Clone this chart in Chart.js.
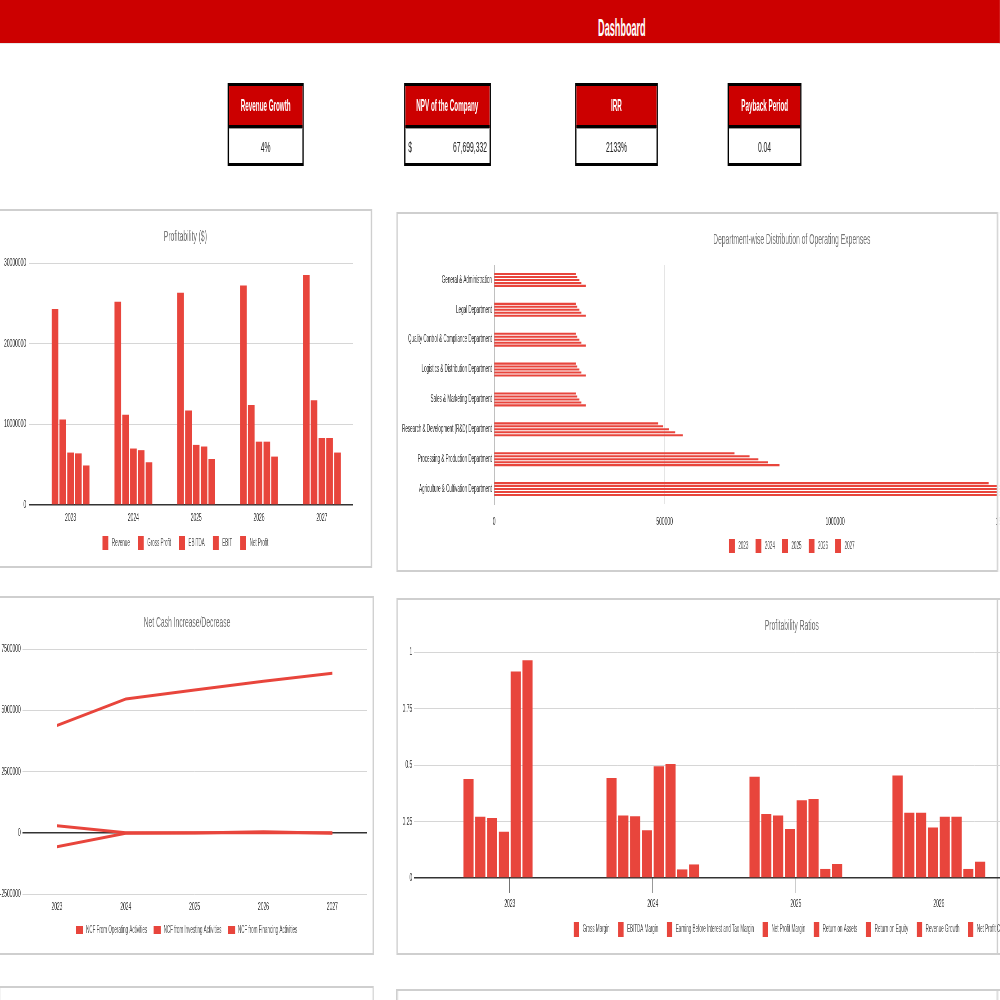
<!DOCTYPE html>
<html>
<head>
<meta charset="utf-8">
<script src="https://cdn.jsdelivr.net/npm/chart.js@4.4.1/dist/chart.umd.min.js"></script>
<style>
  html, body { margin:0; padding:0; background:#fff; overflow:hidden; width:1000px; height:1000px; }
  #page { position:absolute; left:0; top:0; width:2222px; height:1000px; transform:scaleX(0.45); transform-origin:0 0;
          font-family:'Liberation Sans', Arial, sans-serif; }
  .topbar { position:absolute; left:0; top:0; width:2222px; height:43px; background:#cc0000; border-bottom:1px solid #e8e8e8;
            color:#fff; font-weight:bold; font-size:23px; }
  .topbar span { position:absolute; left:1382px; top:15px; line-height:26px; transform:translateX(-50%) scaleX(0.88); }
  .kpi { position:absolute; top:83px; height:83px; border:3px solid #000; box-sizing:border-box; background:#fff; }
  .kpi .head { height:39px; background:#cc0000; color:#fff; font-weight:bold; font-size:17px; text-align:center;
               line-height:39px; border-bottom:3px solid #000; white-space:nowrap; }
  .kpi .head span { display:inline-block; transform:scaleX(0.82); }
  .kpi .val { height:35px; color:#222; font-size:15px; text-align:center; line-height:35px; position:relative;
              border-top:1px solid #999; }
  .card { position:absolute; border-style:solid; border-color:#cfcfcf; border-width:2px 3px; box-sizing:border-box; background:#fff; }
  .edge { position:absolute; left:2215px; width:3px; background:#cfcfcf; }
  .cut { position:absolute; left:2215px; width:7px; background:#fff; border-left:3px solid #cfcfcf; box-sizing:border-box; }
  canvas { position:absolute; }
</style>
</head>
<body>
<div id="page">
  <div class="topbar"><span>Dashboard</span></div>

  <div class="kpi" style="left:506px; width:169px;"><div class="head"><span>Revenue Growth</span></div><div class="val">4%</div></div>
  <div class="kpi" style="left:898px; width:193px;"><div class="head"><span>NPV of the Company</span></div>
    <div class="val"><span style="position:absolute; left:6px;">$</span><span style="position:absolute; right:6px;">67,699,332</span></div></div>
  <div class="kpi" style="left:1278px; width:184px;"><div class="head"><span>IRR</span></div><div class="val">2133%</div></div>
  <div class="kpi" style="left:1617px; width:164px;"><div class="head"><span>Payback Period</span></div><div class="val">0.04</div></div>

  <div class="card" style="left:-3px; top:209px; width:830px; height:359px;"></div>
  <div class="card" style="left:881px; top:212px; width:1400px; height:360px;"></div>
  <div class="card" style="left:-3px; top:596px; width:834px; height:359px;"></div>
  <div class="card" style="left:881px; top:598px; width:1400px; height:357px;"></div>
  <div class="card" style="left:-3px; top:986px; width:834px; height:300px;"></div>
  <div class="card" style="left:881px; top:989px; width:1400px; height:300px;"></div>
  <div class="edge" style="top:598px; height:357px;"></div>
  <div class="edge" style="top:989px; height:300px;"></div>

  <canvas id="profitChart" width="824" height="359" style="left:0px; top:209px; width:824px; height:359px;"></canvas>
  <canvas id="deptChart" width="1757" height="360" style="left:881px; top:212px; width:1757px; height:360px;"></canvas>
  <canvas id="cashChart" width="831" height="357" style="left:0px; top:596px; width:831px; height:357px;"></canvas>
  <canvas id="ratioChart" width="1757" height="357" style="left:881px; top:598px; width:1757px; height:357px;"></canvas>

  <div class="cut" style="top:212px; height:360px;"></div>
</div>

<script>
const RED = '#e8453c'
const GRID = '#d6d6d6'
const DARK = '#333333'

const years = ['2023', '2024', '2025', '2026', '2027']

// Profitability ($)
const profitNames = ['Revenue', 'Gross Profit', 'EBITDA', 'EBIT', 'Net Profit']
const revenue = [24300000, 25200000, 26300000, 27200000, 28500000]
const grossProfit = [10600000, 11200000, 11700000, 12400000, 13000000]
const ebitda = [6500000, 7000000, 7450000, 7850000, 8300000]
const ebit = [6400000, 6800000, 7250000, 7850000, 8300000]
const netProfit = [4900000, 5300000, 5700000, 6000000, 6500000]

// Department-wise Distribution of Operating Expenses
const departments = ['General & Administration', 'Legal Department', 'Quality Control & Compliance Department',
  'Logistics & Distribution Department', 'Sales & Marketing Department', 'Research & Development (R&D) Department',
  'Processing & Production Department', 'Agriculture & Cultivation Department']
const opex2023 = [240000, 240000, 240000, 240000, 240000, 481000, 705000, 1450000]
const opex2024 = [244000, 244000, 244000, 244000, 244000, 496000, 749000, 1500000]
const opex2025 = [250000, 250000, 250000, 250000, 250000, 512000, 775000, 1550000]
const opex2026 = [256000, 256000, 256000, 256000, 256000, 531000, 803000, 1610000]
const opex2027 = [269000, 269000, 269000, 269000, 269000, 553000, 837000, 1670000]

// Net Cash Increase/Decrease
const ncfNames = ['NCF From Operating Activities', 'NCF from Investing Activities', 'NCF from Financing Activities']
const ncfOperating = [4380000, 5460000, 5830000, 6180000, 6510000]
const ncfInvesting = [-570000, -20000, -10000, 40000, -20000]
const ncfFinancing = [290000, 0, 0, 0, 0]

// Profitability Ratios
const ratioNames = ['Gross Margin', 'EBITDA Margin', 'Earning Before Interest and Tax Margin', 'Net Profit Margin',
  'Return on Assets', 'Return on Equity', 'Revenue Growth', 'Net Profit CAGR']
const grossMargin = [0.438, 0.442, 0.448, 0.454, 0.46]
const ebitdaMargin = [0.271, 0.277, 0.283, 0.289, 0.295]
const ebitMargin = [0.265, 0.273, 0.277, 0.289, 0.295]
const netProfitMargin = [0.205, 0.211, 0.217, 0.223, 0.228]
const returnOnAssets = [0.914, 0.494, 0.344, 0.271, 0.22]
const returnOnEquity = [0.963, 0.504, 0.35, 0.271, 0.22]
const revenueGrowth = [0, 0.038, 0.04, 0.04, 0.045]
const netProfitCagr = [0, 0.06, 0.062, 0.072, 0.08]

Chart.defaults.font.family = "'Liberation Sans', Arial, sans-serif"
Chart.defaults.font.size = 10
Chart.defaults.color = '#333'
Chart.defaults.animation = false
Chart.defaults.plugins.tooltip.enabled = false

// moves the legend up a little after layout (it overlaps only empty padding)
Chart.register({
  id: 'legendShift',
  defaults: { dy: 0 },
  afterLayout(chart, args, opts) {
    if (chart.legend && opts.dy) {
      chart.legend.top -= opts.dy
      chart.legend.bottom -= opts.dy
    }
  }
})

const TICK_FONT = { size: 11 }
const titleOpts = (text, top, bottom) => ({
  display: true, text: text, color: '#757575',
  font: { size: 15, weight: 'normal' }, padding: { top: top, bottom: bottom }
})
const zeroGrid = (c) => c.tick && c.tick.value === 0 ? DARK : GRID
const zeroWidth = (c) => c.tick && c.tick.value === 0 ? 1.5 : 1
const plain = (v) => String(v)
// a bit more room between legend box and text, like the sheet chart
const spacedLabels = (chart) => Chart.defaults.plugins.legend.labels.generateLabels(chart)
  .map(l => Object.assign(l, { text: ' ' + l.text }))
// empty axis on the right so legend and title stay centred on the whole card
const rightGap = (w) => ({
  type: 'linear', position: 'right', grid: { display: false, drawTicks: false },
  ticks: { display: false }, border: { display: false }, afterFit(s) { s.width = w }
})

// chart 1
const profitData = [revenue, grossProfit, ebitda, ebit, netProfit]
new Chart(document.getElementById('profitChart'), {
  type: 'bar',
  data: {
    labels: years,
    datasets: profitData.map((d, i) => ({
      label: profitNames[i], data: d, backgroundColor: RED,
      categoryPercentage: 0.62, barPercentage: 0.85
    }))
  },
  options: {
    responsive: false,
    layout: { padding: { left: 0, right: 0, top: 0, bottom: 0 } },
    plugins: {
      title: titleOpts('Profitability ($)', 19, 17),
      legend: { position: 'bottom', labels: { boxWidth: 13, boxHeight: 14, padding: 18, color: '#555', generateLabels: spacedLabels } },
      legendShift: { dy: 8 }
    },
    scales: {
      x: {
        grid: { display: false, drawTicks: false }, border: { display: false },
        ticks: { padding: 6, font: TICK_FONT }, afterFit(s) { s.height = 21 }
      },
      y: {
        min: 0, max: 30000000,
        ticks: { stepSize: 10000000, padding: 6, callback: plain, font: TICK_FONT },
        grid: { color: zeroGrid, lineWidth: zeroWidth, tickLength: 23 },
        border: { display: false }, afterFit(s) { s.width = 87 }
      },
      y2: rightGap(39)
    }
  }
})

// chart 2
const opexData = [opex2023, opex2024, opex2025, opex2026, opex2027]
new Chart(document.getElementById('deptChart'), {
  type: 'bar',
  data: {
    labels: departments,
    datasets: opexData.map((d, i) => ({
      label: years[i], data: d, backgroundColor: RED,
      categoryPercentage: 0.5, barPercentage: 0.7
    }))
  },
  options: {
    responsive: false,
    indexAxis: 'y',
    layout: { padding: { left: 0, right: 0, top: 0, bottom: 2 } },
    plugins: {
      title: titleOpts('Department-wise Distribution of Operating Expenses', 19, 16),
      legend: { position: 'bottom', labels: { boxWidth: 13, boxHeight: 14, padding: 16, color: '#555', generateLabels: spacedLabels } },
      legendShift: { dy: 7 }
    },
    scales: {
      x: {
        min: 0, max: 2000000,
        ticks: { stepSize: 500000, padding: 3, callback: plain, font: TICK_FONT },
        grid: { color: '#e2e2e2', drawTicks: true, tickLength: 8, tickColor: 'rgba(0,0,0,0)' },
        border: { display: false },
        afterFit(s) { s.height = 26 }
      },
      y: {
        ticks: { padding: 5 },
        grid: { display: false, drawTicks: false },
        border: { color: '#9a9a9a', width: 1 },
        afterFit(s) { s.width = 217 }
      }
    }
  }
})

// chart 3
const ncfData = [ncfOperating, ncfInvesting, ncfFinancing]
new Chart(document.getElementById('cashChart'), {
  type: 'line',
  data: {
    labels: years,
    datasets: ncfData.map((d, i) => ({
      label: ncfNames[i], data: d, borderColor: RED, backgroundColor: RED,
      borderWidth: 3, pointRadius: 0, tension: 0
    }))
  },
  options: {
    responsive: false,
    layout: { padding: { left: 0, right: 0, top: 0, bottom: 2 } },
    plugins: {
      title: titleOpts('Net Cash Increase/Decrease', 18, 17),
      legend: { position: 'bottom', labels: { boxWidth: 13, boxHeight: 5, padding: 16, color: '#555', generateLabels: spacedLabels } },
      legendShift: { dy: 6 }
    },
    scales: {
      x: {
        offset: true,
        grid: { display: false, drawTicks: false }, border: { display: false },
        ticks: { padding: 6, font: TICK_FONT }, afterFit(s) { s.height = 21 }
      },
      y: {
        min: -2500000, max: 7500000,
        ticks: { stepSize: 2500000, padding: 4, callback: plain, font: TICK_FONT },
        grid: { color: zeroGrid, lineWidth: zeroWidth, drawTicks: false },
        border: { display: false }, afterFit(s) { s.width = 50 }
      },
      y2: rightGap(16)
    }
  }
})

// chart 4
const ratioData = [grossMargin, ebitdaMargin, ebitMargin, netProfitMargin, returnOnAssets, returnOnEquity, revenueGrowth, netProfitCagr]
new Chart(document.getElementById('ratioChart'), {
  type: 'bar',
  data: {
    labels: years,
    datasets: ratioData.map((d, i) => ({
      label: ratioNames[i], data: d, backgroundColor: RED,
      categoryPercentage: 0.66, barPercentage: 0.86
    }))
  },
  options: {
    responsive: false,
    layout: { padding: { left: 0, right: 0, top: 0, bottom: 0 } },
    plugins: {
      title: titleOpts('Profitability Ratios', 19, 17),
      legend: { position: 'bottom', labels: { boxWidth: 12, boxHeight: 15, padding: 19, color: '#555', generateLabels: spacedLabels } },
      legendShift: { dy: 8 }
    },
    scales: {
      x: {
        grid: { offset: false, drawOnChartArea: false, drawTicks: true, tickLength: 15, color: DARK },
        border: { display: false },
        ticks: { padding: 4, font: TICK_FONT }, afterFit(s) { s.height = 33 }
      },
      y: {
        min: 0, max: 1,
        ticks: { stepSize: 0.25, padding: 4, callback: plain, font: TICK_FONT },
        grid: { color: zeroGrid, lineWidth: zeroWidth, tickLength: 54 },
        border: { display: false }, afterFit(s) { s.width = 93 }
      },
      y2: rightGap(75)
    }
  }
})
</script>
</body>
</html>
